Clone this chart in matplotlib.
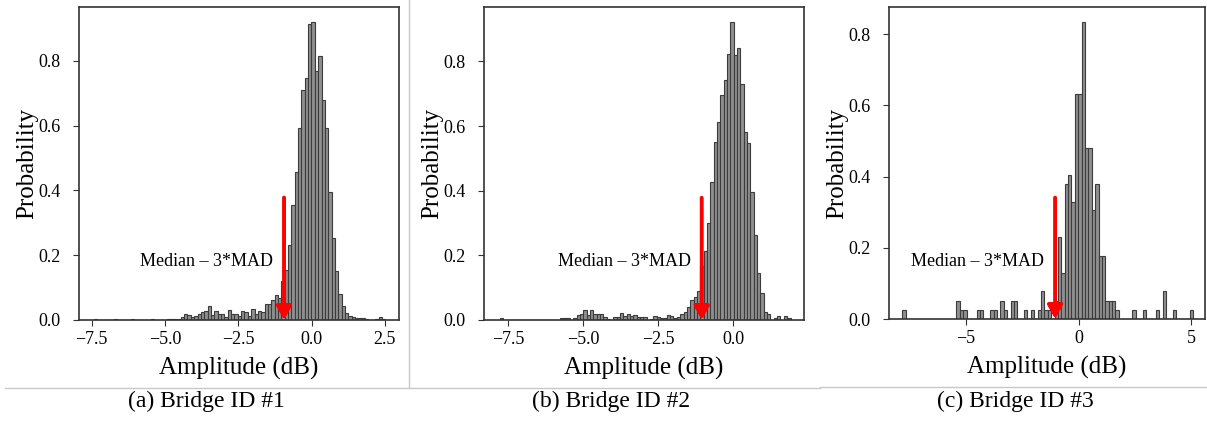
import numpy as np
import matplotlib.pyplot as plt
from matplotlib.lines import Line2D

plt.rcParams['font.family'] = ['Liberation Serif', 'DejaVu Serif']

# ---------------------------------------------------------------- data
# Bridge #1: probability density per bin (87 equal bins)
range_1 = (-7.43, 2.51)
density_1 = [
    0.004, 0, 0, 0, 0, 0, 0.004, 0, 0, 0, 0, 0.004, 0, 0, 0, 0, 0, 0.004,
    0, 0, 0, 0, 0.004, 0.004, 0.004, 0.004, 0.009, 0.017, 0.015, 0.010,
    0.013, 0.020, 0.025, 0.029, 0.044, 0.015, 0.027, 0.018, 0.017, 0.010,
    0.032, 0.020, 0.020, 0.012, 0.027, 0.025, 0.012, 0.033, 0.020, 0.028,
    0.026, 0.050, 0.048, 0.062, 0.078, 0.068, 0.120, 0.155, 0.232, 0.354,
    0.457, 0.593, 0.711, 0.747, 0.915, 0.920, 0.770, 0.814, 0.680, 0.592,
    0.396, 0.253, 0.150, 0.080, 0.042, 0.022, 0.013, 0.009, 0.007, 0.007,
    0.006, 0.004, 0, 0, 0.004, 0.008, 0.004,
]
threshold_1 = -0.94

# Bridge #2
range_2 = (-7.79, 1.91)
density_2 = [
    0.006, 0, 0, 0, 0, 0, 0, 0, 0, 0, 0, 0, 0, 0, 0, 0, 0, 0,
    0.005, 0.005, 0.005, 0, 0.006, 0.016, 0.020, 0.031, 0.016, 0.031, 0.020,
    0.018, 0.018, 0.010, 0.003, 0, 0.008, 0.010, 0.023, 0.013, 0.018, 0.013,
    0.017, 0.010, 0.008, 0.008, 0, 0.003, 0.013, 0.010, 0.007, 0.007, 0.017,
    0.013, 0.007, 0.010, 0.020, 0.025, 0.041, 0.062, 0.070, 0.090, 0.166,
    0.212, 0.300, 0.428, 0.551, 0.613, 0.695, 0.742, 0.824, 0.922, 0.819,
    0.840, 0.730, 0.580, 0.548, 0.395, 0.263, 0.145, 0.085, 0.024, 0.020,
    0, 0.006, 0.013, 0, 0.012, 0.005,
]
threshold_2 = -1.05

# Bridge #3
range_3 = (-7.83, 5.10)
density_3 = [
    0.026, 0, 0, 0, 0, 0, 0, 0, 0, 0, 0, 0, 0, 0, 0, 0, 0.051, 0.026, 0.026,
    0, 0, 0, 0.026, 0.026, 0, 0, 0.026, 0.026, 0, 0.051, 0.026, 0, 0.051,
    0.051, 0, 0, 0.026, 0, 0.026, 0, 0.026, 0.078, 0.026, 0.026, 0, 0.051,
    0.230, 0.130, 0.380, 0.405, 0.330, 0.633, 0.633, 0.835, 0.480, 0.480,
    0.305, 0.380, 0.178, 0.178, 0.051, 0.051, 0.051, 0.026, 0, 0, 0,
    0, 0.026, 0, 0, 0.026, 0, 0, 0, 0.026, 0, 0.078, 0, 0, 0.026, 0, 0, 0,
    0, 0.026,
]
threshold_3 = -1.04

panels = [
    dict(rng=range_1, dens=density_1, thr=threshold_1, arrow_top=0.378,
         label_y=0.18, xlim=(-7.93, 2.98), xticks=[-7.5, -5.0, -2.5, 0.0, 2.5],
         box=(79, 7, 399, 320), caption='(a) Bridge ID #1', cap_x=206),
    dict(rng=range_2, dens=density_2, thr=threshold_2, arrow_top=0.378,
         label_y=0.18, xlim=(-8.31, 2.36), xticks=[-7.5, -5.0, -2.5, 0.0],
         box=(484, 7, 804, 320), caption='(b) Bridge ID #2', cap_x=611),
    dict(rng=range_3, dens=density_3, thr=threshold_3, arrow_top=0.341,
         label_y=0.161, xlim=(-8.42, 5.62), xticks=[-5, 0, 5],
         box=(889, 7, 1205, 319), caption='(c) Bridge ID #3', cap_x=1015),
]

# ---------------------------------------------------------------- figure
W, H = 1207, 423
fig = plt.figure(figsize=(W / 100, H / 100), dpi=100)


def axes_at(left, top, right, bottom):
    return fig.add_axes([left / W, 1 - bottom / H, (right - left) / W,
                         (bottom - top) / H])


for p in panels:
    ax = axes_at(*p['box'])
    dens = np.asarray(p['dens'], dtype=float)
    edges = np.linspace(p['rng'][0], p['rng'][1], len(dens) + 1)
    centers = 0.5 * (edges[:-1] + edges[1:])
    ax.hist(centers, bins=edges, weights=dens, color='#8f8f8f',
            edgecolor='#3c3c3c', linewidth=0.8)
    ax.set_xlim(*p['xlim'])
    ax.set_ylim(0, dens.max() * 1.05)
    ax.set_xticks(p['xticks'])
    ax.set_yticks([0.0, 0.2, 0.4, 0.6, 0.8])

    # threshold arrow and its label
    ax.annotate('', xy=(p['thr'], 0), xytext=(p['thr'], p['arrow_top']),
                arrowprops=dict(arrowstyle='-|>,head_width=0.45,head_length=0.8',
                                color='#ff0000', lw=2.8, mutation_scale=10,
                                shrinkA=0, shrinkB=0))
    ax.annotate('Median – 3*MAD', xy=(p['thr'], p['label_y']),
                xytext=(-11, 0), textcoords='offset pixels',
                ha='right', va='center', fontsize=13)

    ax.set_xlabel('Amplitude (dB)', fontsize=18, labelpad=6)
    ax.set_ylabel('Probability', fontsize=18, labelpad=0)
    ax.tick_params(labelsize=13, color='#333333', length=4.5)
    ax.tick_params(axis='y', pad=9)
    for s in ax.spines.values():
        s.set_color('#333333')
        s.set_linewidth(1.2)

    fig.text(p['cap_x'] / W, 1 - 401 / H, p['caption'], ha='center',
             va='center', fontsize=17)

# panel separators
sep = '#c8c8c8'
fig.add_artist(Line2D([5 / W, 820 / W], [1 - 388 / H] * 2, color=sep, lw=1))
fig.add_artist(Line2D([820 / W, 1.0], [1 - 386.5 / H] * 2, color=sep, lw=1))
fig.add_artist(Line2D([409 / W] * 2, [1 - 388 / H, 1.0], color=sep, lw=1))

fig.savefig('out.png', dpi=100)
